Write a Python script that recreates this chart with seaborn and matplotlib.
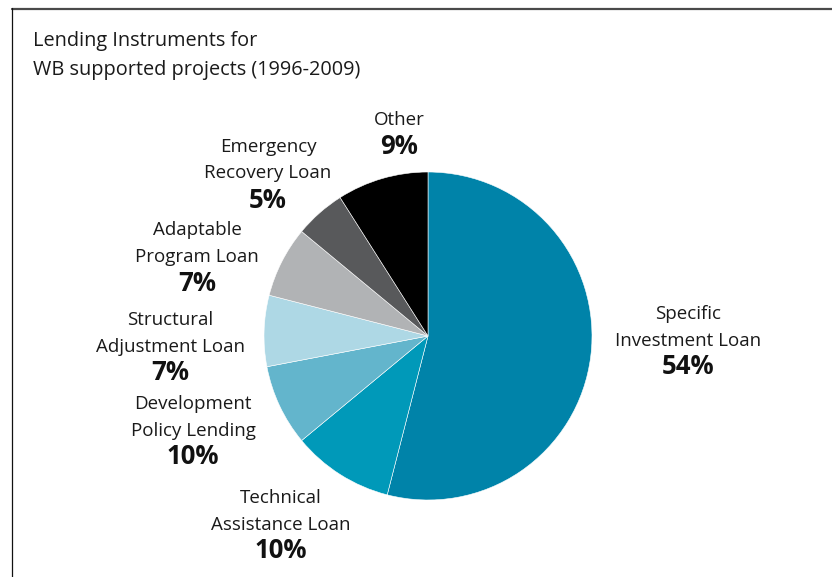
import matplotlib
matplotlib.use("Agg")
import matplotlib.pyplot as plt
import seaborn as sns
from matplotlib.lines import Line2D

categories = ["Specific\nInvestment Loan", "Technical\nAssistance Loan",
              "Development\nPolicy Lending", "Structural\nAdjustment Loan",
              "Adaptable\nProgram Loan", "Emergency\nRecovery Loan", "Other"]
values = [54, 10, 8, 7, 7, 5, 9]
pct_labels = ["54%", "10%", "10%", "7%", "7%", "5%", "9%"]
colors = ["#0083A9", "#0099B9", "#63B5CC", "#AED8E5", "#B1B3B5", "#58595B", "#000000"]

sns.set_theme(style="white")
plt.rcParams["font.family"] = ["Open Sans", "DejaVu Sans"]

W, H = 832, 577
fig = plt.figure(figsize=(W / 100, H / 100), dpi=100)
fig.patch.set_facecolor("white")

cx, cy, r = 428, 336, 164
ax = fig.add_axes([(cx - r) / W, (H - cy - r) / H, 2 * r / W, 2 * r / H])
ax.pie(values, colors=colors, startangle=90, counterclock=False,
       radius=1, wedgeprops=dict(edgecolor="white", linewidth=0.4))
ax.set_xlim(-1, 1)
ax.set_ylim(-1, 1)
ax.axis("off")

# label anchor positions (pixel centres of first line), layout only
label_pos = [(688, 314), (281, 498), (193, 404), (170, 320), (197, 230), (268, 147), (399, 120)]
line_h = 26.5
for cat, pct, (lx, ly) in zip(categories, pct_labels, label_pos):
    lines = cat.split("\n")
    for i, ln in enumerate(lines):
        fig.text(lx / W, 1 - (ly + i * line_h) / H, ln, ha="center", va="center",
                 fontsize=13.5, color="#1a1a1a")
    fig.text(lx / W, 1 - (ly + len(lines) * line_h) / H, pct, ha="center", va="center",
             fontsize=18.5, fontweight="bold", color="#111111")

fig.text(33 / W, 1 - 41 / H, "Lending Instruments for", ha="left", va="center",
         fontsize=14.3, color="#1a1a1a")
fig.text(33 / W, 1 - 70.5 / H, "WB supported projects (1996-2009)", ha="left", va="center",
         fontsize=14.3, color="#1a1a1a")

# frame lines
fig.add_artist(Line2D([12 / W, 1], [1 - 8.5 / H, 1 - 8.5 / H], transform=fig.transFigure,
                      color="#4a4a4a", linewidth=1.6))
fig.add_artist(Line2D([12 / W, 12 / W], [1 - 8 / H, 0], transform=fig.transFigure,
                      color="#111111", linewidth=0.9))

fig.savefig("out.png", dpi=100)
